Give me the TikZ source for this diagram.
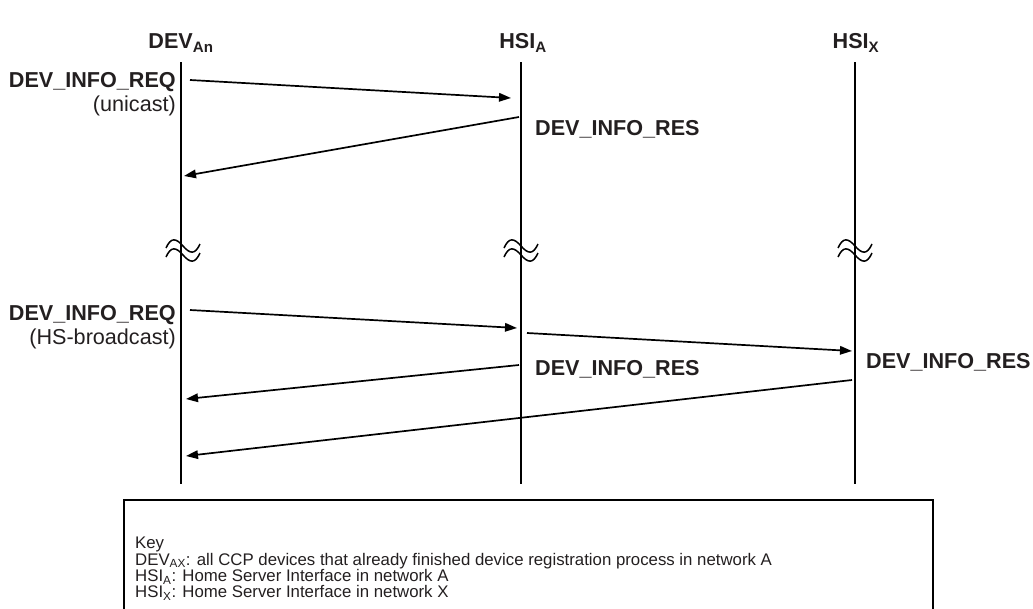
\documentclass[tikz,border=0pt]{standalone}
\usepackage{fontspec}
\setmainfont{Liberation Sans}
\usetikzlibrary{arrows.meta,calc}
\definecolor{ink}{RGB}{35,31,32}
\tikzset{
  life/.style={line width=1.7pt},
  msg/.style={line width=1.7pt,-{Triangle[length=12pt,width=8.5pt]}},
  lbl/.style={font=\fontsize{21.6}{23}\selectfont\bfseries,inner sep=0pt,text=ink},
  sublbl/.style={font=\fontsize{21.6}{23}\selectfont,inner sep=0pt,text=ink},
  hdr/.style={font=\fontsize{21.6}{23}\selectfont\bfseries,inner sep=0pt,text=ink},
  brk/.style={line width=1.5pt},
  keytxt/.style={font=\fontsize{16.8}{16.4}\selectfont,inner sep=0pt,align=left,anchor=north west,text=ink},
}
\newcommand{\breakmark}[1]{%
  \draw[brk] ($(#1)+(-17,-3)$) .. controls +(5,-11) and +(-7,-8) .. ($(#1)+(0,-5)$) .. controls +(7,8) and +(-5,11) .. ($(#1)+(17,-7)$);
  \draw[brk] ($(#1)+(-17,6)$) .. controls +(5,-11) and +(-7,-8) .. ($(#1)+(0,4)$) .. controls +(7,8) and +(-5,11) .. ($(#1)+(17,2)$);
}
\begin{document}
\begin{tikzpicture}[x=1pt,y=-1pt]
\useasboundingbox (0,0) rectangle (1033,608);
% headers
\node[hdr] (hD) at (181,43) {DEV\textsubscript{An}};
\node[hdr] (hA) at (523,43) {HSI\textsubscript{A}};
\node[hdr] (hX) at (856,43) {HSI\textsubscript{X}};
% lifelines
\coordinate (D0) at (181,62); \coordinate (D1) at (181,484);
\coordinate (A0) at (521,62); \coordinate (A1) at (521,484);
\coordinate (X0) at (855,62); \coordinate (X1) at (855,484);
\draw[life] (D0) -- (D1);
\draw[life] (A0) -- (A1);
\draw[life] (X0) -- (X1);
% breaks
\coordinate (bD) at (183,251); \coordinate (bA) at (521,251); \coordinate (bX) at (855,251);
\breakmark{bD}\breakmark{bA}\breakmark{bX}
% section 1
\coordinate (m1s) at (190,80); \coordinate (m1e) at (511,98);
\draw[msg] (m1s) -- (m1e);
\node[lbl,anchor=base east] (l1) at (176,87) {DEV\_INFO\_REQ};
\node[sublbl,anchor=base east] (l1b) at (176,111) {(unicast)};
\coordinate (m2s) at (519,117); \coordinate (m2e) at (184,176);
\draw[msg] (m2s) -- (m2e);
\node[lbl,anchor=base west] (l2) at (535,135) {DEV\_INFO\_RES};
% section 2
\coordinate (m3s) at (190,310); \coordinate (m3e) at (517,328);
\draw[msg] (m3s) -- (m3e);
\node[lbl,anchor=base east] (l3) at (176,320) {DEV\_INFO\_REQ};
\node[sublbl,anchor=base east] (l3b) at (176,344) {(HS-broadcast)};
\coordinate (m4s) at (527,333); \coordinate (m4e) at (852,351);
\draw[msg] (m4s) -- (m4e);
\node[lbl,anchor=base west] (l4) at (535,375) {DEV\_INFO\_RES};
\coordinate (m5s) at (519,365); \coordinate (m5e) at (186,399);
\draw[msg] (m5s) -- (m5e);
\node[lbl,anchor=base west] (l5) at (866,368) {DEV\_INFO\_RES};
\coordinate (m6s) at (852,380); \coordinate (m6e) at (186,456);
\draw[msg] (m6s) -- (m6e);
% key
\draw[line width=1.7pt] (124,620) -- (124,500) -- (933,500) -- (933,620);
\node[keytxt] (key) at (135,537) {Key\\DEV\textsubscript{AX}: all CCP devices that already finished device registration process in network A\\HSI\textsubscript{A}: Home Server Interface in network A\\HSI\textsubscript{X}: Home Server Interface in network X};
\end{tikzpicture}
\end{document}
